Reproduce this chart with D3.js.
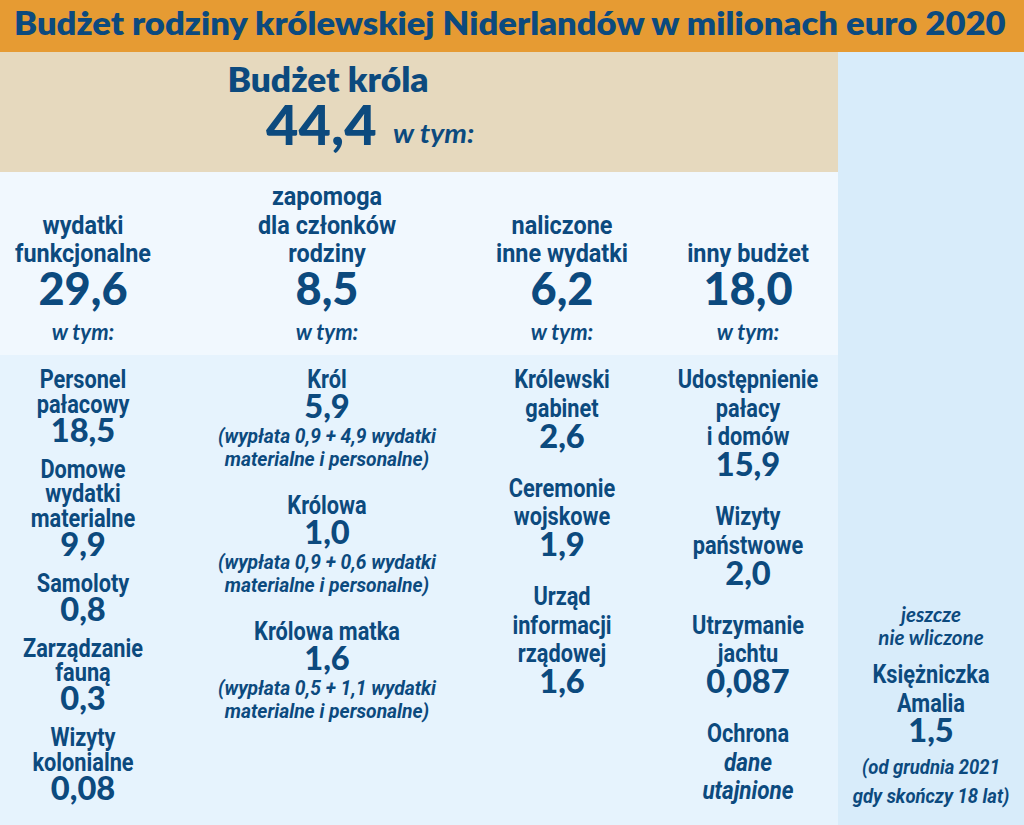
<!DOCTYPE html>
<html><head><meta charset="utf-8">
<script src="https://cdn.jsdelivr.net/npm/d3@7"></script>
<style>body{margin:0;background:#fff} svg{display:block}</style>
</head><body><svg id="c" width="1024" height="825"></svg>
<script>
// ---------- DATA ----------
const title = "Budżet rodziny królewskiej Niderlandów w milionach euro 2020";
const kingLabel = "Budżet króla";
const kingValue = "44,4";
const ofWhich = "w tym:";
const categoryLabels = [["wydatki","funkcjonalne"],["zapomoga","dla członków","rodziny"],["naliczone","inne wydatki"],["inny budżet"]];
const categoryValues = ["29,6","8,5","6,2","18,0"];
const functionalItems = [
  {label:["Personel","pałacowy"], value:"18,5"},
  {label:["Domowe","wydatki","materialne"], value:"9,9"},
  {label:["Samoloty"], value:"0,8"},
  {label:["Zarządzanie","fauną"], value:"0,3"},
  {label:["Wizyty","kolonialne"], value:"0,08"}
];
const allowanceItems = [
  {label:["Król"], value:"5,9", note:["(wypłata 0,9 + 4,9 wydatki","materialne i personalne)"]},
  {label:["Królowa"], value:"1,0", note:["(wypłata 0,9 + 0,6 wydatki","materialne i personalne)"]},
  {label:["Królowa matka"], value:"1,6", note:["(wypłata 0,5 + 1,1 wydatki","materialne i personalne)"]}
];
const otherChargedItems = [
  {label:["Królewski","gabinet"], value:"2,6"},
  {label:["Ceremonie","wojskowe"], value:"1,9"},
  {label:["Urząd","informacji","rządowej"], value:"1,6"}
];
const otherBudgetItems = [
  {label:["Udostępnienie","pałacy","i domów"], value:"15,9"},
  {label:["Wizyty","państwowe"], value:"2,0"},
  {label:["Utrzymanie","jachtu"], value:"0,087"},
  {label:["Ochrona"], value:null, italic:["dane","utajnione"]}
];
const notIncludedHeader = ["jeszcze","nie wliczone"];
const notIncludedLabel = ["Księżniczka","Amalia"];
const notIncludedValue = "1,5";
const notIncludedNote = ["(od grudnia 2021","gdy skończy 18 lat)"];

// ---------- LAYOUT / STYLE ----------
const W = 1024, H = 825;
const INK = "#0c4a7e";
const svg = d3.select("#c");
const colX = d3.scaleOrdinal().domain([0,1,2,3,4]).range([83,327,562,748,931]);

svg.append("rect").attr("x",0).attr("y",0).attr("width",W).attr("height",52).attr("fill","#e69b33");
svg.append("rect").attr("x",0).attr("y",52).attr("width",838).attr("height",120).attr("fill","#e6d9be");
svg.append("rect").attr("x",838).attr("y",52).attr("width",W-838).attr("height",H-52).attr("fill","#d8ecfa");
svg.append("rect").attr("x",0).attr("y",172).attr("width",838).attr("height",183).attr("fill","#f1f8fe");
svg.append("rect").attr("x",0).attr("y",355).attr("width",838).attr("height",H-355).attr("fill","#e6f3fd");

const S = {
  num:   {ff:"Lato", fw:900, size:32, sx:1.02},
  numL:  {ff:"Lato", fw:900, size:46, sx:0.98},
  lab2:  {ff:"Roboto", fw:700, size:26, sx:0.9},
  lab3:  {ff:"Roboto", fw:700, size:25, sx:0.87},
  labI:  {ff:"Roboto", fw:700, fs:"italic", size:25, sx:0.9},
  note:  {ff:"Roboto", fw:700, fs:"italic", size:20.5, sx:0.94},
  noteR: {ff:"Roboto", fw:700, fs:"italic", size:20.5, sx:0.9},
  wtym:  {ff:"Lato", fw:700, fs:"italic", size:22},
  hdrI:  {ff:"Lato", fw:700, fs:"italic", size:20.5}
};
function txt(str, x, y, st, anchor){
  const g = svg.append("g").attr("transform",`translate(${x},${y}) scale(${st.sx||1},1)`);
  return g.append("text").attr("text-anchor",anchor||"middle")
    .attr("font-family",st.ff).attr("font-weight",st.fw).attr("font-style",st.fs||"normal")
    .attr("font-size",st.size).attr("fill",INK).text(str);
}

// title, stretched to span the banner
const tt = txt(title, 0, 0, {ff:"Lato", fw:800, size:32}, "start");
const tw = tt.node().getComputedTextLength();
d3.select(tt.node().parentNode).attr("transform",`translate(14,35) scale(${992/tw},1)`);

// king
txt(kingLabel, 328, 92, {ff:"Lato", fw:800, size:33, sx:1.07});
txt(kingValue, 266, 145, {ff:"Lato", fw:900, size:56}, "start");
txt(ofWhich, 393, 143, {ff:"Lato", fw:700, fs:"italic", size:26, sx:1.1}, "start");

// categories (row 2): labels bottom-aligned
categoryLabels.forEach((lines,i)=>{
  lines.forEach((l,j)=> txt(l, colX(i), 262 - (lines.length-1-j)*28.5, S.lab2));
  txt(categoryValues[i], colX(i), 305, S.numL);
  txt(ofWhich, colX(i), 340, S.wtym);
});

// row 3 columns
function column(items, ci, cfg){
  let y = cfg.y0;
  items.forEach((it,k)=>{
    it.label.forEach((l,j)=>{ if(j>0) y+=cfg.lh; txt(l, colX(ci), y, S.lab3); });
    if(it.value!==null){ y+=cfg.l2v; txt(it.value, colX(ci), y, S.num); }
    if(it.italic){ it.italic.forEach(l=>{ y+=cfg.lh; txt(l, colX(ci), y, S.labI); }); }
    if(it.note){ it.note.forEach((l,j)=>{ y+= j===0?cfg.v2note:cfg.noteLh; txt(l, colX(ci), y, S.note); }); y+=cfg.note2next; }
    else y+=cfg.v2next;
  });
}
column(functionalItems, 0, {y0:388, lh:24.5, l2v:29, v2next:36});
column(allowanceItems, 1, {y0:388, lh:28, l2v:30, v2note:25, noteLh:23, note2next:48});
column(otherChargedItems, 2, {y0:388, lh:28.5, l2v:31, v2next:49});
column(otherBudgetItems, 3, {y0:388, lh:28.5, l2v:31, v2next:49});

// not included column
txt(notIncludedHeader[0], colX(4), 622, S.hdrI);
txt(notIncludedHeader[1], colX(4), 645, S.hdrI);
txt(notIncludedLabel[0], colX(4), 683, S.lab3);
txt(notIncludedLabel[1], colX(4), 712, S.lab3);
txt(notIncludedValue, colX(4), 742, S.num);
txt(notIncludedNote[0], colX(4), 774, S.noteR);
txt(notIncludedNote[1], colX(4), 803, S.noteR);
</script></body></html>
